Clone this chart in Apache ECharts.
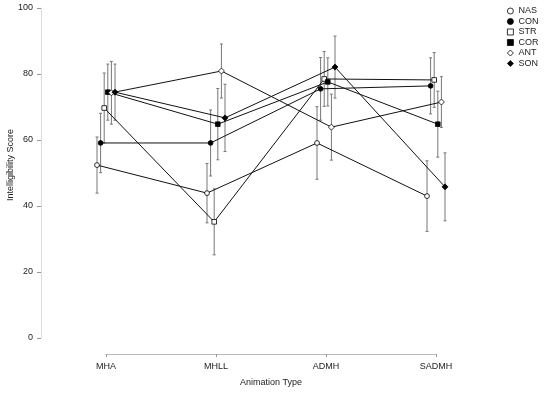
<!DOCTYPE html>
<html>
<head>
<meta charset="utf-8">
<script src="https://cdn.jsdelivr.net/npm/echarts@6/dist/echarts.min.js"></script>
<style>
  html, body { margin: 0; padding: 0; background: #fff; }
  #chart { width: 550px; height: 393px; }
</style>
</head>
<body>
<div id="chart"></div>
<script>
  // categories on the x axis
  var categories = ['MHA', 'MHLL', 'ADMH', 'SADMH'];
  var groupNames = ['NAS', 'CON', 'STR', 'COR', 'ANT', 'SON'];

  // means and half-width of the error bars
  var nasMean = [52.4, 43.9, 59.1, 43.0];
  var nasErr = [8.5, 9.0, 11.0, 10.7];
  var conMean = [59.1, 59.1, 75.5, 76.4];
  var conErr = [9.0, 10.0, 9.5, 8.5];
  var strMean = [69.7, 35.2, 78.5, 78.2];
  var strErr = [10.6, 10.0, 8.3, 8.3];
  var corMean = [74.5, 64.8, 77.6, 64.8];
  var corErr = [8.5, 10.8, 7.3, 10.0];
  var antMean = [74.3, 80.9, 63.9, 71.5];
  var antErr = [9.5, 8.2, 10.0, 7.7];
  var sonMean = [74.5, 66.7, 82.1, 45.8];
  var sonErr = [8.5, 10.2, 9.4, 10.3];

  var yTicks = [0, 20, 40, 60, 80, 100];

  var groupMeans = [nasMean, conMean, strMean, corMean, antMean, sonMean];
  var groupErrs = [nasErr, conErr, strErr, corErr, antErr, sonErr];
  var groupShapes = ['circle', 'circle', 'rect', 'rect', 'diamond', 'diamond'];
  var groupFilled = [false, true, false, true, false, true];

  var DODGE = 3.6; // pixels between neighbouring groups

  function markerShape(shape, x, y, filled) {
    var style = { fill: filled ? '#000' : '#fff', stroke: '#000', lineWidth: 0.8 };
    if (shape === 'circle') {
      return { type: 'circle', shape: { cx: x, cy: y, r: 2.4 }, style: style, z2: 30 };
    }
    if (shape === 'rect') {
      return { type: 'rect', shape: { x: x - 2.3, y: y - 2.3, width: 4.6, height: 4.6 }, style: style, z2: 30 };
    }
    return {
      type: 'polygon',
      shape: { points: [[x, y - 3], [x + 3, y], [x, y + 3], [x - 3, y]] },
      style: style, z2: 30
    };
  }

  function makeSeries(gi) {
    var means = groupMeans[gi];
    var errs = groupErrs[gi];
    var offset = (gi - 2.5) * DODGE;
    return {
      type: 'custom',
      name: groupNames[gi],
      clip: false,
      data: means.map(function (m, i) { return [i, m, errs[i]]; }),
      renderItem: function (params, api) {
        var i = api.value(0), m = api.value(1), e = api.value(2);
        var p = api.coord([i, m]);
        var top = api.coord([i, m + e]);
        var bot = api.coord([i, m - e]);
        var x = p[0] + offset;
        var barStyle = { stroke: '#777', lineWidth: 1 };
        var children = [
          { type: 'line', shape: { x1: x, y1: top[1], x2: x, y2: bot[1] }, style: barStyle, z2: 5 },
          { type: 'line', shape: { x1: x - 1.5, y1: top[1], x2: x + 1.5, y2: top[1] }, style: barStyle, z2: 5 },
          { type: 'line', shape: { x1: x - 1.5, y1: bot[1], x2: x + 1.5, y2: bot[1] }, style: barStyle, z2: 5 }
        ];
        if (i < means.length - 1) {
          var q = api.coord([i + 1, means[i + 1]]);
          children.push({
            type: 'line',
            shape: { x1: x, y1: p[1], x2: q[0] + offset, y2: q[1] },
            style: { stroke: '#111', lineWidth: 1 },
            z2: 10
          });
        }
        children.push(markerShape(groupShapes[gi], x, p[1], groupFilled[gi]));
        return { type: 'group', children: children };
      }
    };
  }

  var series = [];
  for (var gi = 0; gi < groupNames.length; gi++) {
    series.push(makeSeries(gi));
  }

  var legendIcons = { circle: 'circle', rect: 'rect', diamond: 'diamond' };
  var legendData = groupNames.map(function (n, gi) {
    return {
      name: n,
      icon: legendIcons[groupShapes[gi]],
      itemStyle: { color: groupFilled[gi] ? '#000' : '#fff', borderColor: '#000', borderWidth: 0.8 }
    };
  });

  var chart = echarts.init(document.getElementById('chart'));
  chart.setOption({
    animation: false,
    textStyle: { fontFamily: 'Liberation Sans, Arial, sans-serif' },
    grid: { left: 106, right: 114, top: 8, bottom: 55, outerBoundsMode: 'none', containLabel: false },
    legend: {
      orient: 'vertical',
      left: 507,
      top: 6,
      padding: 0,
      itemWidth: 6,
      itemHeight: 6,
      itemGap: 0.5,
      textStyle: { fontSize: 9, color: '#222', lineHeight: 10 },
      data: legendData
    },
    xAxis: {
      type: 'category',
      data: categories,
      boundaryGap: false,
      offset: 16,
      name: 'Animation Type',
      nameLocation: 'middle',
      nameGap: 24,
      nameTextStyle: { fontSize: 9, color: '#222' },
      axisLine: { onZero: false, lineStyle: { color: '#bbb', width: 1 } },
      axisTick: { alignWithLabel: true, length: 3, lineStyle: { color: '#999' } },
      axisLabel: { fontSize: 9, color: '#222', margin: 8 },
      splitLine: { show: false }
    },
    yAxis: {
      type: 'value',
      min: yTicks[0],
      max: yTicks[yTicks.length - 1],
      interval: yTicks[1] - yTicks[0],
      offset: 65,
      name: 'Intelligibility Score',
      nameLocation: 'middle',
      nameGap: 26,
      nameMoveOverlap: false,
      nameTextStyle: { fontSize: 9, color: '#222', padding: [0, 0, 0, 16] },
      axisLine: { show: true, onZero: false, lineStyle: { color: '#ddd', width: 1 } },
      axisTick: { show: true, length: 4, lineStyle: { color: '#999' } },
      axisLabel: { fontSize: 9, color: '#222', margin: 8 },
      splitLine: { show: false }
    },
    series: series
  });
</script>
</body>
</html>
